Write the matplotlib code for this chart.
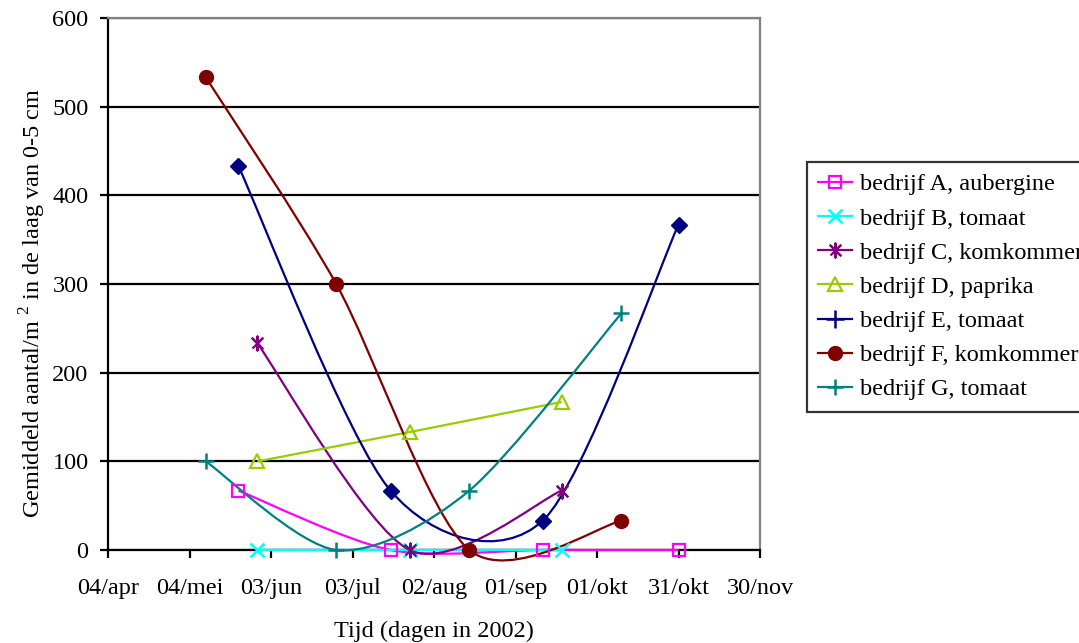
import datetime as dt
import numpy as np
import matplotlib
matplotlib.use('Agg')
import matplotlib.pyplot as plt
import matplotlib.dates as mdates
from matplotlib.path import Path
from matplotlib.patches import PathPatch
from matplotlib.lines import Line2D

plt.rcParams['font.family'] = ['Liberation Serif', 'DejaVu Serif']
plt.rcParams['mathtext.fontset'] = 'custom'
plt.rcParams['mathtext.rm'] = 'Liberation Serif'


def d(day, month):
    return dt.date(2002, month, day)


# bemonsteringsdata en gemiddeld aantal per m2
dates_a = [d(22, 5), d(17, 7), d(11, 9), d(31, 10)]
vals_a = [67, 0, 0, 0]
dates_b = [d(29, 5), d(24, 7), d(18, 9)]
vals_b = [0, 0, 0]
dates_c = [d(29, 5), d(24, 7), d(18, 9)]
vals_c = [233, 0, 67]
dates_d = [d(29, 5), d(24, 7), d(18, 9)]
vals_d = [100, 133, 167]
dates_e = [d(22, 5), d(17, 7), d(11, 9), d(31, 10)]
vals_e = [433, 67, 33, 367]
dates_f = [d(10, 5), d(27, 6), d(15, 8), d(10, 10)]
vals_f = [533, 300, 0, 33]
dates_g = [d(10, 5), d(27, 6), d(15, 8), d(10, 10)]
vals_g = [100, 0, 67, 267]

labels = ['bedrijf A, aubergine', 'bedrijf B, tomaat', 'bedrijf C, komkommer',
          'bedrijf D, paprika', 'bedrijf E, tomaat', 'bedrijf F, komkommer',
          'bedrijf G, tomaat']
colors = ['#FF00FF', '#00FFFF', '#800080', '#99CC00', '#000080', '#800000', '#008080']

tick_dates = [d(4, 4), d(4, 5), d(3, 6), d(3, 7), d(2, 8), d(1, 9), d(1, 10), d(31, 10), d(30, 11)]
tick_labels = ['04/apr', '04/mei', '03/jun', '03/jul', '02/aug', '01/sep', '01/okt', '31/okt', '30/nov']

ASTER = [(-1, -1), (1, 1), (0, 0), (-1, 1), (1, -1), (0, 0), (0, 1.4), (0, -1.4), (0, 0)]


def smooth_path(x, y, f=1 / 7):
    # excel-achtige gladde lijn (catmull-rom als bezier)
    pts = np.column_stack([x, y]).astype(float)
    n = len(pts)
    verts = [pts[0]]
    codes = [Path.MOVETO]
    for i in range(n - 1):
        p0 = pts[max(i - 1, 0)]
        p1 = pts[i]
        p2 = pts[i + 1]
        p3 = pts[min(i + 2, n - 1)]
        verts += [p1 + (p2 - p0) * f, p2 - (p3 - p1) * f, p2]
        codes += [Path.CURVE4] * 3
    return Path(verts, codes)


fig = plt.figure(figsize=(10.79, 6.43), dpi=100)
ax = fig.add_axes([108 / 1079, 1 - 550 / 643, (760 - 108) / 1079, (550 - 18) / 643])

series = [
    (dates_a, vals_a, 's', dict(mfc='none', ms=9, mew=1.6)),
    (dates_b, vals_b, 'x', dict(ms=10, mew=1.8)),
    (dates_c, vals_c, ASTER, dict(ms=10, mew=1.6)),
    (dates_d, vals_d, '^', dict(mfc='none', ms=10, mew=1.6)),
    (dates_e, vals_e, 'D', dict(ms=8, mew=1)),
    (dates_f, vals_f, 'o', dict(ms=10, mew=1)),
    (dates_g, vals_g, '+', dict(ms=11, mew=1.8)),
]

for (dts, vals, mk, kw), col in zip(series, colors):
    xs = mdates.date2num(dts)
    patch = PathPatch(smooth_path(xs, vals), fill=False, edgecolor=col, lw=1.6,
                      transform=ax.transData, clip_on=False, zorder=3)
    ax.add_patch(patch)
    ax.plot(xs, vals, linestyle='none', marker=mk, color=col, mec=col,
            clip_on=False, zorder=4, **kw)

ax.set_xlim(mdates.date2num(d(4, 4)), mdates.date2num(d(30, 11)))
ax.set_ylim(0, 600)
ax.set_xticks(mdates.date2num(tick_dates))
ax.set_xticklabels(tick_labels)
ax.set_yticks(range(0, 601, 100))

ax.set_axisbelow(True)
ax.yaxis.grid(True, color='black', lw=1.6)
ax.tick_params(axis='both', direction='out', length=6, width=1.6, labelsize=17.5, color='black')
ax.tick_params(axis='x', pad=14)
ax.tick_params(axis='y', pad=8)
for s in ['left', 'bottom']:
    ax.spines[s].set_color('black')
    ax.spines[s].set_linewidth(1.6)
for s in ['top', 'right']:
    ax.spines[s].set_color('#808080')
    ax.spines[s].set_linewidth(1.6)

ax.set_xlabel('Tijd (dagen in 2002)', fontsize=17.5, labelpad=16)
ax.set_ylabel(r'Gemiddeld aantal/m $^{2}$ in de laag van 0-5 cm', fontsize=17.5)
ax.yaxis.set_label_coords((48 - 108) / 652, (550 - 303) / 532)

# legenda (E staat in de legenda met een plusteken)
leg_markers = ['s', 'x', ASTER, '^', '+', 'o', '+']
leg_kw = [dict(mfc='none', ms=9, mew=1.6), dict(ms=10, mew=1.8), dict(ms=10, mew=1.6),
          dict(mfc='none', ms=10, mew=1.6), dict(ms=13, mew=1.8), dict(ms=10, mew=1),
          dict(ms=11, mew=1.8)]
handles = [Line2D([], [], color=c, lw=1.6, marker=m, mec=c, **k)
           for c, m, k in zip(colors, leg_markers, leg_kw)]
leg = fig.legend(handles, labels, loc='upper left', bbox_to_anchor=(807 / 1079, 1 - 162 / 643),
                 fontsize=17.5, frameon=True, fancybox=False, edgecolor='black',
                 borderpad=0.47, labelspacing=0.5, handlelength=1.4, handletextpad=0.3,
                 borderaxespad=0)
leg.get_frame().set_linewidth(1.6)

fig.savefig('out.png', dpi=100)
